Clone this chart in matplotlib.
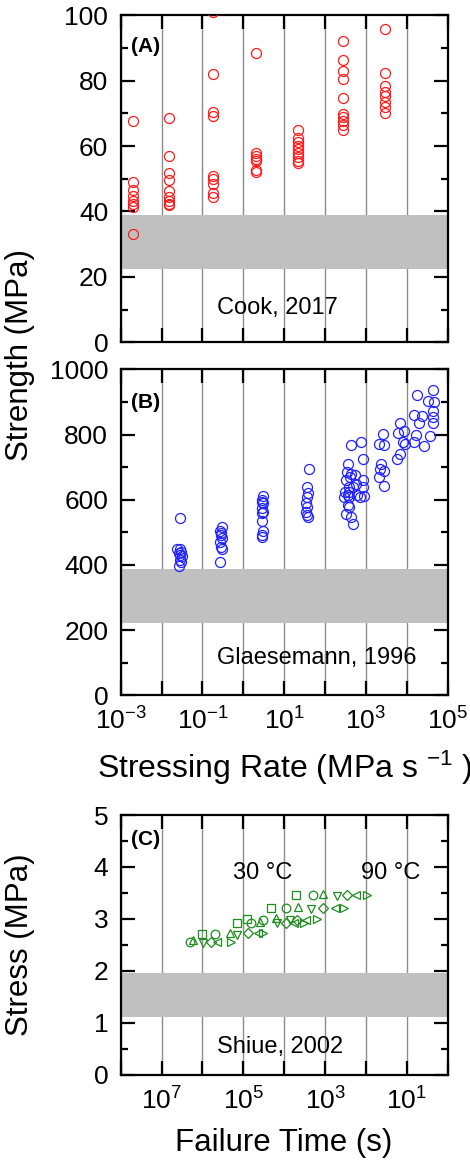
import numpy as np
import matplotlib
matplotlib.use("Agg")
import matplotlib.pyplot as plt
from matplotlib.ticker import FixedLocator, FuncFormatter, MultipleLocator

plt.rcParams['font.family'] = ['Liberation Sans', 'DejaVu Sans']
plt.rcParams['mathtext.fontset'] = 'custom'
plt.rcParams['mathtext.rm'] = 'Liberation Sans'
plt.rcParams['mathtext.default'] = 'regular'

# (A) Cook, 2017 : stressing rate (MPa/s) vs strength (MPa)
cook_rate = [0.002] * 8 + [0.015] * 9 + [0.18] * 9 + [2.0] * 7 + [22.0] * 9 + [280.0] * 10 + [3000.0] * 8
cook_strength = [67.6, 48.9, 46.6, 44.6, 43.2, 42.2, 41.5, 33.2,
                 68.7, 57.0, 51.7, 49.6, 46.3, 44.3, 43.2, 42.4, 41.9,
                 101.0, 82.1, 70.5, 69.3, 50.9, 49.9, 48.3, 45.6, 44.4,
                 88.3, 57.9, 57.0, 56.0, 55.3, 52.7, 52.2,
                 64.9, 62.4, 61.3, 60.1, 59.1, 57.9, 56.5, 55.3, 54.7,
                 92.2, 86.2, 82.8, 80.4, 74.8, 69.8, 68.8, 67.5, 66.3, 65.0,
                 95.6, 82.4, 78.3, 76.5, 75.3, 73.4, 71.9, 70.1]

# (B) Glaesemann, 1996
glaes_rate = [0.028, 0.024, 0.029, 0.030, 0.026, 0.029, 0.031, 0.028, 0.030, 0.026,
              0.30, 0.27, 0.29, 0.28, 0.30, 0.27, 0.29, 0.30, 0.27,
              3.0, 2.8, 2.9, 3.1, 2.9, 3.1, 2.9, 2.8, 3.1, 2.9, 2.8,
              40.0, 37.0, 38.0, 36.0, 35.0, 36.0, 34.0, 37.0, 39.0,
              430, 760, 830, 370, 350, 420, 540, 400, 330, 850, 560, 380, 480, 870,
              300, 390, 600, 900, 360, 290, 380, 700, 360, 380, 330, 420, 470,
              2600, 2100, 2700, 2300, 2200, 2700, 2100, 2800,
              6800, 6200, 8500, 8000, 9000, 6700, 5700,
              16600, 15100, 26300, 18200, 15100, 22900, 20400, 44700, 33900, 46800,
              44700, 44700, 44700, 37200]
glaes_strength = [545, 448, 448, 440, 437, 430, 427, 415, 410, 397,
                  517, 505, 497, 492, 482, 471, 454, 448, 410,
                  611, 600, 594, 589, 576, 563, 558, 535, 505, 492, 487,
                  693, 638, 621, 609, 591, 578, 563, 553, 548,
                  767, 777, 726, 711, 685, 680, 675, 670, 660, 660, 649, 639, 639, 639,
                  624, 624, 613, 610, 613, 608, 608, 608, 583, 577, 557, 547, 526,
                  801, 770, 768, 710, 693, 689, 671, 642,
                  834, 804, 812, 778, 771, 740, 724,
                  798, 778, 765, 921, 860, 857, 836, 937, 904, 901,
                  873, 853, 836, 795]

# (C) Shiue, 2002 : log10 failure time (s) and stress (MPa) for 30..90 C
shiue_markers = ['s', 'o', '^', 'v', 'D', '<', '>']
shiue_logt = [[6.02, 5.15, 4.90, 4.33, 3.71],
              [6.30, 5.69, 4.82, 4.53, 3.96, 3.30],
              [6.22, 5.33, 4.59, 4.20, 3.67, 3.04],
              [5.98, 5.16, 4.18, 3.85, 3.35, 2.70],
              [5.80, 4.88, 3.96, 3.69, 3.04, 2.47],
              [5.64, 4.65, 3.77, 3.47, 2.75, 2.24],
              [5.31, 4.52, 3.51, 3.20, 2.53, 1.98]]
shiue_stress = [[2.71, 2.91, 3.00, 3.20, 3.46],
                [2.56, 2.71, 2.91, 2.98, 3.20, 3.46],
                [2.59, 2.72, 2.93, 3.02, 3.23, 3.48],
                [2.53, 2.69, 2.91, 2.98, 3.18, 3.44],
                [2.55, 2.72, 2.91, 2.98, 3.20, 3.46],
                [2.55, 2.72, 2.92, 2.98, 3.21, 3.46],
                [2.56, 2.72, 2.92, 3.00, 3.21, 3.46]]

# gray bands
band_a = (22.4, 38.9)
band_b = (222, 388)
band_c = (1.11, 1.96)

TICK_FS = 19
LABEL_FS = 22.5

fig = plt.figure(figsize=(4.7, 11.6), dpi=100)
L, W = 0.2568, 0.6957
axA = fig.add_axes([L, 0.7048, W, 0.2822])
axB = fig.add_axes([L, 0.4006, W, 0.2810])
axC = fig.add_axes([L, 0.0737, W, 0.2237])


def odd_exp(v, pos):
    e = int(round(np.log10(v)))
    return r'$10^{%d}$' % e if e % 2 else ''


def style(ax, decades, ymaj, ymin):
    for s in ax.spines.values():
        s.set_linewidth(1.6)
    ax.set_xscale('log')
    ax.xaxis.set_major_locator(FixedLocator([10.0 ** e for e in decades]))
    ax.xaxis.set_minor_locator(FixedLocator([]))
    ax.xaxis.set_major_formatter(FuncFormatter(odd_exp))
    ax.yaxis.set_major_locator(MultipleLocator(ymaj))
    ax.yaxis.set_minor_locator(MultipleLocator(ymin))
    ax.tick_params(which='both', direction='in', top=True, right=True,
                   labelsize=TICK_FS, width=1.6, pad=9)
    ax.tick_params(which='major', length=10)
    ax.tick_params(which='minor', length=5)
    ax.grid(True, axis='x', which='major', color='#8c8c8c', lw=1.0)
    ax.set_axisbelow(True)


# panel A
style(axA, range(-3, 6), 20, 10)
axA.axhspan(*band_a, color='#c0c0c0', lw=0, zorder=1)
axA.plot(cook_rate, cook_strength, 'o', mfc='none', mec='#ff1a1a', ms=7.2, mew=0.9, zorder=3)
axA.set_xlim(1e-3, 1e5)
axA.set_ylim(0, 100)
axA.tick_params(labelbottom=False)
axA.text(0.03, 0.905, '(A)', transform=axA.transAxes, fontsize=15, fontweight='bold', va='center')
axA.text(0.478, 10.6, 'Cook, 2017', ha='center', va='center', fontsize=17,
         transform=axA.get_yaxis_transform())

# panel B
style(axB, range(-3, 6), 200, 100)
axB.axhspan(*band_b, color='#c0c0c0', lw=0, zorder=1)
axB.plot(glaes_rate, glaes_strength, 'o', mfc='none', mec='#2323ff', ms=7.2, mew=0.9, zorder=3)
axB.set_xlim(1e-3, 1e5)
axB.set_ylim(0, 1000)
axB.text(0.03, 0.898, '(B)', transform=axB.transAxes, fontsize=15, fontweight='bold', va='center')
axB.text(0.600, 114, 'Glaesemann, 1996', ha='center', va='center', fontsize=17,
         transform=axB.get_yaxis_transform())
axB.set_xlabel(r'Stressing Rate (MPa s $^{-1}$ )', fontsize=23, labelpad=10)

# panel C
style(axC, range(0, 9), 1, 0.5)
axC.axhspan(*band_c, color='#c0c0c0', lw=0, zorder=1)
for mk, lt, st in zip(shiue_markers, shiue_logt, shiue_stress):
    axC.plot(10.0 ** np.array(lt), st, mk, mfc='none', mec='#1e8c1e',
             ms=6.2 if mk != 'D' else 5.0, mew=0.9, zorder=3)
axC.set_xlim(1e8, 1e0)
axC.set_ylim(0, 5)
axC.text(0.03, 0.907, '(C)', transform=axC.transAxes, fontsize=15, fontweight='bold', va='center')
axC.text(0.488, 0.53, 'Shiue, 2002', ha='center', va='center', fontsize=17,
         transform=axC.get_yaxis_transform())
axC.text(0.435, 3.88, '30 °C', ha='center', va='center', fontsize=17,
         transform=axC.get_yaxis_transform())
axC.text(0.824, 3.88, '90 °C', ha='center', va='center', fontsize=17,
         transform=axC.get_yaxis_transform())
axC.set_xlabel('Failure Time (s)', fontsize=LABEL_FS, labelpad=10)

fig.text(0.043, 1 - 355 / 1160, 'Strength (MPa)', rotation=90, ha='center', va='center',
         fontsize=LABEL_FS)
fig.text(0.043, 1 - 945 / 1160, 'Stress (MPa)', rotation=90, ha='center', va='center',
         fontsize=LABEL_FS)

fig.savefig('out.png', dpi=100)
